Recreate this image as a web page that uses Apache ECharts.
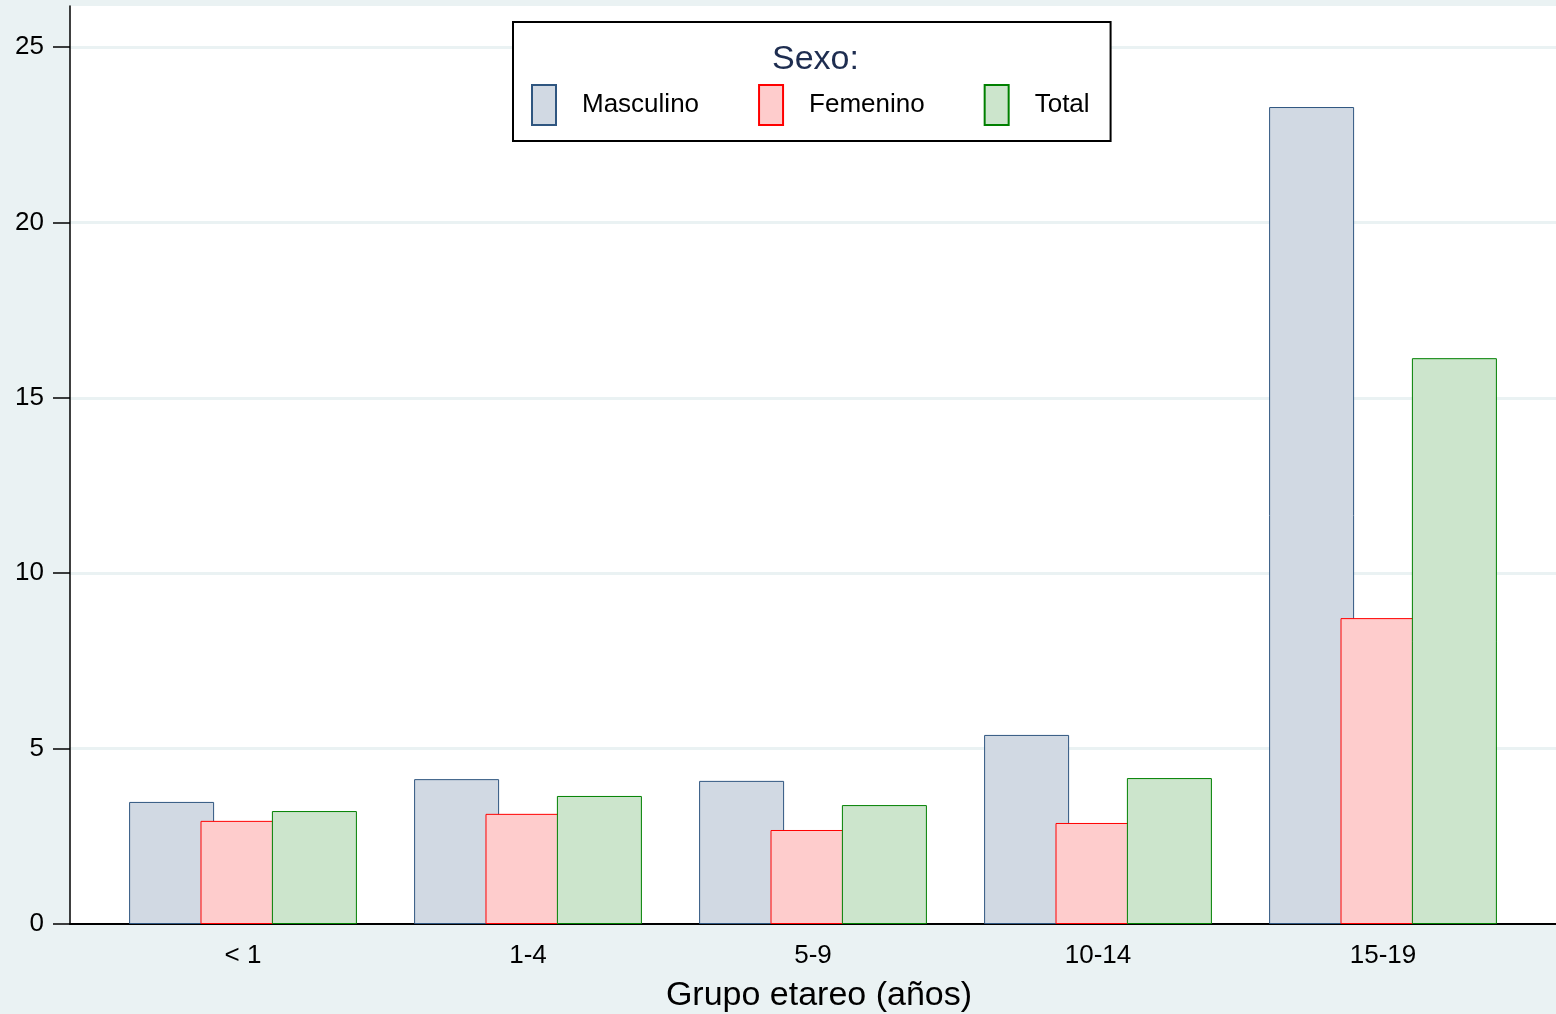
<!DOCTYPE html>
<html>
<head>
<meta charset="utf-8">
<script src="https://cdn.jsdelivr.net/npm/echarts@6/dist/echarts.min.js"></script>
<style>
  html, body { margin: 0; padding: 0; background: #eaf2f3; }
  #chart { width: 1556px; height: 1014px; }
</style>
</head>
<body>
<div id="chart"></div>
<script>
// grupos etareos
const categories = ["< 1", "1-4", "5-9", "10-14", "15-19"];
const masculino = [3.48, 4.13, 4.08, 5.39, 23.29];
const femenino = [2.94, 3.14, 2.68, 2.88, 8.72];
const total = [3.22, 3.65, 3.39, 4.16, 16.13];
const yTicks = [0, 5, 10, 15, 20, 25];

const font = "'Liberation Sans', Arial, sans-serif";
const myChart = echarts.init(document.getElementById("chart"));

const toPoints = (arr) => arr.map((v, i) => [i, v]);
const barSeries = (name, data, fill, border) => ({
  name: name,
  type: "bar",
  data: toPoints(data),
  barWidth: 85,
  barGap: "-16%",
  itemStyle: {
    color: fill,
    borderColor: border,
    borderWidth: 1,
  },
});

const option = {
  backgroundColor: "#eaf2f3",
  animation: false,
  textStyle: { fontFamily: font },
  title: {
    text: "Sexo:",
    left: 772,
    top: 43,
    padding: 0,
    textStyle: {
      fontFamily: font,
      fontSize: 34,
      fontWeight: "normal",
      color: "#1e2d50",
    },
  },
  legend: {
    left: 513,
    top: 22,
    orient: "horizontal",
    backgroundColor: "#fff",
    borderColor: "#000",
    borderWidth: 2,
    borderRadius: 0,
    padding: [62, 21, 15, 18],
    itemWidth: 24,
    itemHeight: 40,
    itemGap: 59,
    icon: "rect",
    textStyle: {
      fontFamily: font,
      fontSize: 26,
      color: "#000",
      padding: [8, 0, 0, 21],
    },
    data: ["Masculino", "Femenino", "Total"],
  },
  grid: {
    left: 70,
    right: 0,
    top: 6,
    bottom: 90,
    outerBoundsMode: "none",
    show: true,
    backgroundColor: "#fff",
    borderWidth: 0,
  },
  xAxis: {
    type: "value",
    min: -0.607,
    max: 4.607,
    name: "Grupo etareo (años)",
    nameLocation: "middle",
    nameGap: 55,
    nameTextStyle: {
      fontFamily: font,
      fontSize: 34,
      color: "#000",
      padding: [0, 0, 0, 12],
    },
    axisLine: { show: true, onZero: false, lineStyle: { color: "#000", width: 2 } },
    axisTick: { show: false },
    splitLine: { show: false },
    axisLabel: {
      customValues: [0, 1, 2, 3, 4],
      formatter: (v) => categories[Math.round(v)],
      fontFamily: font,
      fontSize: 26,
      color: "#000",
      margin: 19,
    },
  },
  yAxis: {
    type: "value",
    min: 0,
    max: 26.17,
    axisLine: { show: true, onZero: false, lineStyle: { color: "#000", width: 1.5 } },
    axisTick: {
      show: true,
      customValues: yTicks,
      length: 17,
      lineStyle: { color: "#000", width: 1.5 },
    },
    axisLabel: {
      customValues: yTicks,
      fontFamily: font,
      fontSize: 26,
      color: "#000",
      margin: 26,
    },
    splitLine: { show: true, lineStyle: { color: "#eaf2f3", width: 3 } },
  },
  series: [
    barSeries("Masculino", masculino, "#d1d9e3", "#2f5680"),
    barSeries("Femenino", femenino, "#fecccc", "#ff0000"),
    barSeries("Total", total, "#cce5cc", "#008000"),
  ],
};
myChart.setOption(option);
</script>
</body>
</html>
